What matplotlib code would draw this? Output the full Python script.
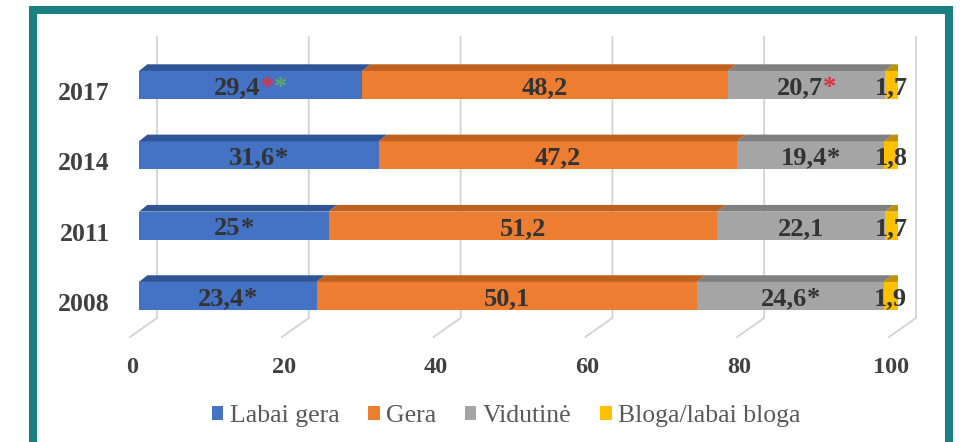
import numpy as np
import matplotlib.pyplot as plt
from matplotlib.patches import Polygon, Patch, Rectangle
from matplotlib.offsetbox import TextArea, HPacker, AnnotationBbox
from matplotlib.transforms import ScaledTranslation

plt.rcParams['font.family'] = ['Liberation Serif', 'DejaVu Serif']

# data
years = ['2008', '2011', '2014', '2017']
labai_gera = [23.4, 25, 31.6, 29.4]
gera = [50.1, 51.2, 47.2, 48.2]
vidutine = [24.6, 22.1, 19.4, 20.7]
bloga = [1.9, 1.7, 1.8, 1.7]
series_names = ['Labai gera', 'Gera', 'Vidutinė', 'Bloga/labai bloga']
# asterisk colours after each value label (empty list = no asterisk)
stars_labai = [['#333333'], ['#333333'], ['#333333'], ['#e0303a', '#5aa86a']]
stars_gera = [[], [], [], []]
stars_vid = [['#333333'], [], ['#333333'], ['#e0303a']]
stars_bloga = [[], [], [], []]

front = ['#4472C4', '#ED7D31', '#A5A5A5', '#FFC000']
top = ['#2F5597', '#C0601F', '#7F7F7F', '#BF9000']
label_col = '#333333'
grid_col = '#D0D0D0'

fig = plt.figure(figsize=(9.64, 4.42), dpi=100)
ax = fig.add_axes([139 / 964, 1 - 337 / 442, (898 - 139) / 964, 300 / 442])
ax.set_xlim(0, 100)
ax.set_ylim(-0.583, 3.683)
for s in ax.spines.values():
    s.set_visible(False)

ypos = np.arange(len(years))
bar_h = 0.4
dx, dy = 1.1, 0.095          # bar depth
back_dx, front_dx = 2.37, -1.19   # wall / floor offsets
floor_y = -0.313

# gridlines on the back wall, with the floor edge running to the front
for v in range(0, 101, 20):
    ax.plot([v + back_dx, v + back_dx, v + front_dx], [3.683, floor_y, -0.583],
            color=grid_col, lw=1.2, zorder=0, clip_on=False)

values = [labai_gera, gera, vidutine, bloga]
stars = [stars_labai, stars_gera, stars_vid, stars_bloga]
left = np.zeros(len(years))
for k, vals in enumerate(values):
    vals = np.array(vals, dtype=float)
    ax.barh(ypos, vals, left=left, height=bar_h, color=front[k], zorder=2)
    for i, y in enumerate(ypos):
        l, r = left[i], left[i] + vals[i]
        yt = y + bar_h / 2
        ax.add_patch(Polygon([(l, yt), (l + dx, yt + dy), (r + dx, yt + dy), (r, yt)],
                             closed=True, color=top[k], lw=0, zorder=2))
        if k == len(values) - 1:
            yb = y - bar_h / 2
            ax.add_patch(Polygon([(r, yb), (r, yt), (r + dx, yt + dy), (r + dx, yb + dy)],
                                 closed=True, color=top[k], lw=0, zorder=2))
        # value label, asterisks may be coloured
        txt = ('%g' % vals[i]).replace('.', ',')
        parts = [TextArea(txt, textprops=dict(color=label_col, fontsize=19, fontweight='bold'))]
        for c in stars[k][i]:
            parts.append(TextArea('*', textprops=dict(color=c, fontsize=19, fontweight='bold')))
        box = HPacker(children=parts, pad=0, sep=0, align='baseline')
        ab = AnnotationBbox(box, ((l + r) / 2, y), xybox=(0, -2), boxcoords='offset points',
                            frameon=False, box_alignment=(0.5, 0.5), zorder=5,
                            annotation_clip=False)
        ax.add_artist(ab)
    left = left + vals

# axis labels
ax.set_yticks(ypos, years)
ax.tick_params(axis='y', length=0, pad=21, labelsize=18.5, labelcolor='#404040')
for t in ax.get_yticklabels():
    t.set_fontweight('bold')
    t.set_transform(t.get_transform() + ScaledTranslation(0, -6 / 100, fig.dpi_scale_trans))

ax.set_xticks(range(0, 101, 20))
ax.tick_params(axis='x', length=0, pad=22, labelsize=17.5, labelcolor='#404040')
for t in ax.get_xticklabels():
    t.set_fontweight('bold')
    t.set_va('center')
    t.set_transform(t.get_transform() + ScaledTranslation(-7 / 100, 0, fig.dpi_scale_trans))

handles = [Patch(facecolor=c, edgecolor='none') for c in front]
fig.legend(handles, series_names, loc='center', bbox_to_anchor=(506 / 964, 1 - 416 / 442),
           ncol=4, frameon=False, fontsize=18.5, labelcolor='#595959',
           handlelength=0.46, handleheight=0.46, handletextpad=0.25, columnspacing=1.1)

# teal frame around the chart (open at the bottom edge of the picture)
fig.patches.append(Rectangle((33 / 964, -0.1), (949 - 33) / 964, 1.1 - 10 / 442,
                             transform=fig.transFigure, fill=False,
                             edgecolor='#1A8080', lw=5.8))

fig.savefig('out.png', dpi=100)
